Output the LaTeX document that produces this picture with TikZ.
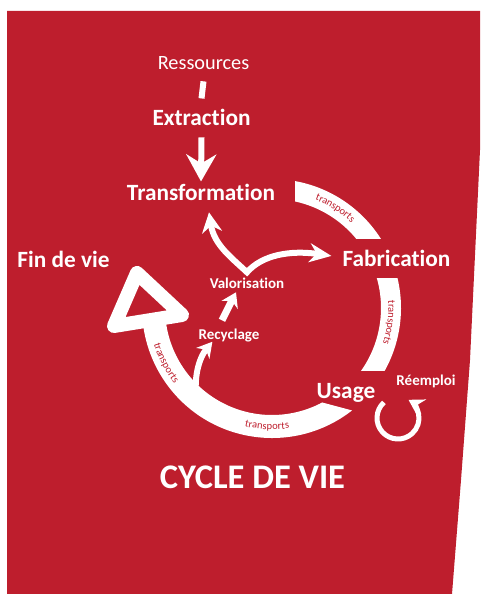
\documentclass[tikz,border=0pt]{standalone}
\usepackage{fontspec}
\setmainfont[Ligatures=NoCommon]{Carlito}
\usetikzlibrary{arrows.meta,decorations.text}
\definecolor{cvred}{RGB}{190,30,45}

\begin{document}
\begin{tikzpicture}[x=1pt, y=1pt,
    stage/.style={text=white, inner sep=0pt, anchor=base, font=\bfseries\fontsize{23.3}{28}\selectfont},
    substage/.style={text=white, inner sep=0pt, anchor=base, font=\bfseries\fontsize{15}{18}\selectfont},
    flow/.style={white, line width=6pt, -{Stealth[length=16pt, width=19pt]}},
    band/.style={white, line width=20pt},
    transp/.style={decorate, decoration={text along path, text color=cvred,
        text={|\fontsize{10.5}{12}\selectfont|transports}, text align=center, raise=-2.6pt}}]

  % fond
  \useasboundingbox (0,0) rectangle (480,-594);
  \fill[cvred] (7,-11) -- (480,-11) -- (480,-150) -- (470,-360) -- (461,-480) -- (452,-594) -- (7,-594) -- cycle;

  % etapes
  \node[text=white, inner sep=0pt, anchor=base, font=\fontsize{20.3}{24}\selectfont] (res) at (203.5,-70) {Ressources};
  \node[stage] (extr) at (201.5,-125) {Extraction};
  \node[stage] (transf) at (201,-200) {Transformation};
  \node[stage] (fab) at (396.5,-266) {Fabrication};
  \node[stage] (usage) at (346,-398) {Usage};
  \node[stage] (fin) at (63.5,-267) {Fin de vie};
  \node[substage] (val) at (247,-288) {Valorisation};
  \node[substage] (rec) at (229,-339) {Recyclage};
  \node[substage] (reemp) at (426,-385) {Réemploi};
  \node[text=white, inner sep=0pt, anchor=base, font=\bfseries\fontsize{34.5}{40}\selectfont] (titre) at (252.5,-488) {CYCLE DE VIE};

  % cycle
  \coordinate (c) at (272,-308);
  \begin{scope}
    \clip (295,0) rectangle (480,-238);
    \draw[band] ([shift={(88:119)}]c) arc[start angle=88, end angle=25, radius=119];
  \end{scope}
  \begin{scope}
    \clip (300,-278) rectangle (480,-370);
    \draw[band] ([shift={(20:119)}]c) arc[start angle=20, end angle=-45, radius=119];
  \end{scope}
  \fill[white] ([shift={(-52:130)}]c) arc[start angle=-52, end angle=-176, radius=130]
    -- ++(4:23) arc[start angle=-176, end angle=-62, radius=107] -- cycle;
  \draw[white, line width=14pt, line join=round] (137,-273) -- (114,-326) -- (182,-315) -- cycle;

  % transports
  \path[transp] ([shift={(82.6:119)}]c) arc[start angle=82.6, end angle=32.6, radius=119];
  \path[transp] ([shift={(17.8:119)}]c) arc[start angle=17.8, end angle=-32.2, radius=119];
  \path[transp] ([shift={(-117.4:119)}]c) arc[start angle=-117.4, end angle=-67.4, radius=119];
  \path[transp] ([shift={(182.4:121)}]c) arc[start angle=182.4, end angle=232.4, radius=121];

  % fleches
  \draw[white, line width=6pt] ([yshift=-11pt]res.south) -- ([yshift=10pt]extr.north);
  \draw[flow, -{Stealth[length=27pt, width=30pt, inset=9pt]}] ([yshift=-12pt]extr.south) -- ([yshift=2pt]transf.north);
  \draw[flow, {Stealth[length=20pt, width=20pt]}-{Stealth[length=22pt, width=19pt]}]
    ([xshift=8pt, yshift=-12pt]transf.south) .. controls (214,-245) and (232,-258) .. ([yshift=5pt]val.north)
    .. controls (262,-255) and (290,-250) .. ([xshift=-11pt, yshift=2pt]fab.west);
  \coordinate (recpied) at (197,-402);
  \draw[flow, -{Stealth[length=15pt, width=17pt]}] (recpied) .. controls (193,-378) and (199,-358) .. ([xshift=14pt]rec.south west);
  \draw[flow, line width=7pt, -{Stealth[length=14pt, width=18pt]}] ([xshift=-7pt, yshift=8pt]rec.north) -- ([xshift=-11pt, yshift=-4pt]val.south);
  \coordinate (boucle) at (398,-418);
  \draw[white, line width=5pt, -{Stealth[length=15pt, width=18pt]}] ([shift={(132:21)}]boucle) arc[start angle=132, end angle=420, radius=21];
\end{tikzpicture}
\end{document}
